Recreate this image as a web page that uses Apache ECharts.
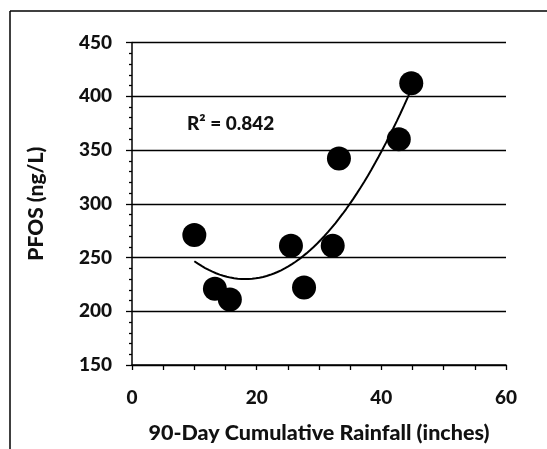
<!DOCTYPE html>
<html>
<head>
<meta charset="utf-8">
<script src="https://cdn.jsdelivr.net/npm/echarts@6/dist/echarts.min.js"></script>
<style>html,body{margin:0;padding:0;background:#fff}#c{width:547px;height:449px}</style>
</head>
<body>
<div id="c"></div>
<script>
// Data
const rainfall = [10.0, 13.3, 15.7, 25.5, 27.6, 32.2, 33.2, 42.8, 44.8];
const pfos     = [271, 221, 211, 261, 222, 261, 342, 360, 412];
const xTicks = [0, 20, 40, 60];
const yTicks = [150, 200, 250, 300, 350, 400, 450];
const r2Label = 'R² = 0.842';

// Quadratic least-squares trendline (as in the source spreadsheet)
function quadFit(xs, ys) {
  let n = xs.length, S = [0,0,0,0,0], T = [0,0,0];
  for (let i = 0; i < n; i++) {
    let p = 1;
    for (let k = 0; k < 5; k++) { S[k] += p; if (k < 3) T[k] += p * ys[i]; p *= xs[i]; }
  }
  const A = [[S[0],S[1],S[2],T[0]],[S[1],S[2],S[3],T[1]],[S[2],S[3],S[4],T[2]]];
  for (let i = 0; i < 3; i++) {
    for (let j = i + 1; j < 3; j++) {
      const f = A[j][i] / A[i][i];
      for (let k = i; k < 4; k++) A[j][k] -= f * A[i][k];
    }
  }
  const c = [0,0,0];
  for (let i = 2; i >= 0; i--) {
    let s = A[i][3];
    for (let k = i + 1; k < 3; k++) s -= A[i][k] * c[k];
    c[i] = s / A[i][i];
  }
  return c;
}
const coef = quadFit(rainfall, pfos);
const xMin = Math.min(...rainfall), xMax = Math.max(...rainfall);
const trend = [];
for (let i = 0; i <= 60; i++) {
  const x = xMin + (xMax - xMin) * i / 60;
  trend.push([x, coef[0] + coef[1] * x + coef[2] * x * x]);
}

const FONT = 'Lato';
const chart = echarts.init(document.getElementById('c'), null, {renderer: 'canvas'});
chart.setOption({
  animation: false,
  backgroundColor: '#fff',
  grid: {left: 132, right: 41, top: 42.5, bottom: 83.5},
  xAxis: {
    type: 'value', min: 0, max: 60, interval: 20,
    name: '90-Day Cumulative Rainfall (inches)', nameLocation: 'middle', nameGap: 57,
    nameTextStyle: {fontFamily: FONT, fontWeight: 900, fontSize: 21.5, color: '#111'},
    axisLine: {show: true, lineStyle: {color: '#000', width: 1.5}},
    axisTick: {show: true, length: 5, lineStyle: {color: '#000', width: 1.3}},
    minorTick: {show: true, splitNumber: 4, length: 5, lineStyle: {color: '#000', width: 1.3}},
    axisLabel: {fontFamily: FONT, fontWeight: 900, fontSize: 19, color: '#111', margin: 23},
    splitLine: {show: false}
  },
  yAxis: {
    type: 'value', min: 150, max: 450, interval: 50,
    name: 'PFOS (ng/L)', nameLocation: 'middle', nameGap: 85, nameRotate: 90,
    nameTextStyle: {fontFamily: FONT, fontWeight: 900, fontSize: 21, color: '#111'},
    axisLine: {show: true, lineStyle: {color: '#000', width: 1.5}},
    axisTick: {show: true, length: 6, lineStyle: {color: '#000', width: 1.3}},
    minorTick: {show: true, splitNumber: 5, length: 3, lineStyle: {color: '#000', width: 1.3}},
    axisLabel: {fontFamily: FONT, fontWeight: 900, fontSize: 19, color: '#111', margin: 20},
    splitLine: {show: true, lineStyle: {color: '#000', width: 1.4}}
  },
  graphic: [
    {type: 'line', shape: {x1: 10, y1: 11, x2: 547, y2: 11}, style: {stroke: '#000', lineWidth: 1.5}},
    {type: 'line', shape: {x1: 10, y1: 11, x2: 10, y2: 449}, style: {stroke: '#000', lineWidth: 1.5}},
    {type: 'text', left: 187, top: 114, style: {text: r2Label, fontFamily: FONT, fontWeight: 900, fontSize: 19, fill: '#111'}}
  ],
  series: [
    {
      type: 'line', data: trend, showSymbol: false, smooth: false,
      lineStyle: {color: '#000', width: 2}, z: 2, silent: true
    },
    {
      type: 'scatter', data: rainfall.map((x, i) => [x, pfos[i]]),
      symbol: 'circle', symbolSize: 24,
      itemStyle: {color: '#000', opacity: 1}, z: 3
    }
  ]
});
</script>
</body>
</html>
